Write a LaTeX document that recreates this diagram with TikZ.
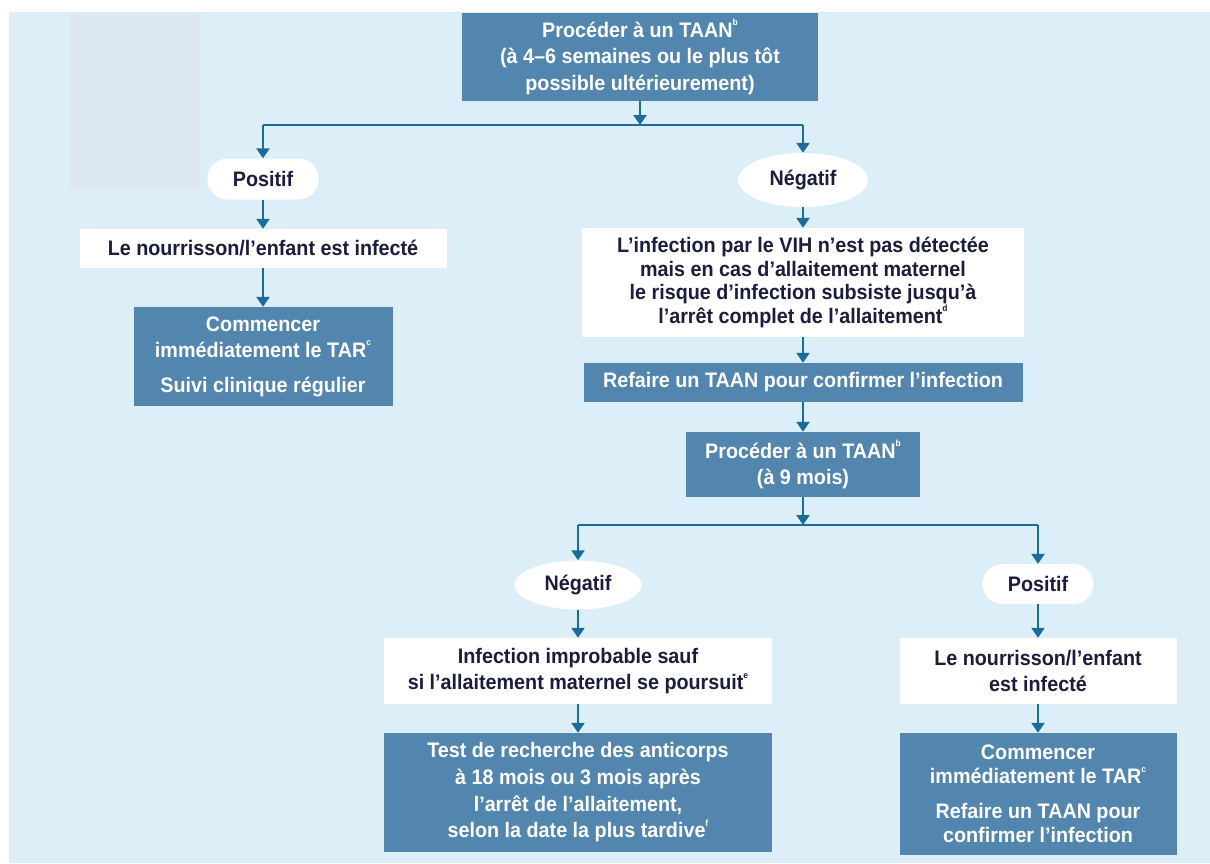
\documentclass[tikz,border=0pt]{standalone}
\usepackage{fontspec}
\setmainfont[FakeStretch=0.94]{Liberation Sans}
\usetikzlibrary{arrows.meta,shapes.geometric}
\definecolor{bg}{HTML}{DCEEF8}
\definecolor{dark}{HTML}{5386AE}
\definecolor{arr}{HTML}{1B6B9C}
\definecolor{greyrect}{HTML}{DDE8F3}
\definecolor{ink}{HTML}{1C1C3C}
\newcommand{\fnmark}[1]{\raisebox{1.05ex}{\fontsize{9}{9}\selectfont #1}}
\begin{document}
\begin{tikzpicture}[x=1pt,y=-1pt,
 txt/.style={font=\bfseries\fontsize{21}{26.5}\selectfont, align=center, inner sep=0pt},
 dbox/.style={txt, fill=dark, text=white},
 wbox/.style={txt, fill=white, text=ink},
 pill/.style={wbox, rounded corners=20pt},
 oval/.style={wbox, ellipse},
 arrow/.style={draw=arr, line width=2.6pt, -{Triangle[length=10pt,width=13pt]}},
 bar/.style={draw=arr, line width=2.6pt}
]
\useasboundingbox (0,0) rectangle (1210,863);
\fill[white] (0,0) rectangle (1210,863);
\fill[bg] (9,12) rectangle (1210,863);
\fill[greyrect] (70,12) rectangle (200,190);

% top
\node[dbox, minimum width=356pt, minimum height=88pt] (t1) at (640,57)
 {Procéder à un TAAN\fnmark{b}\\(à 4–6 semaines ou le plus tôt\\possible ultérieurement)};
\coordinate (j1) at (640,125);
\coordinate (jl1) at (263,125);
\coordinate (jr1) at (803,125);

\node[pill, minimum width=111pt, minimum height=41pt] (p1) at (263,179) {Positif};
\node[oval, minimum width=130pt, minimum height=54pt] (n1) at (803,180) {Négatif};

% left branch
\node[wbox, minimum width=367pt, minimum height=39pt] (w1) at (263,248.5)
 {Le nourrisson/l’enfant est infecté};
\node[dbox, minimum width=259pt, minimum height=99pt] (d1) at (263,356.5)
 {Commencer\\immédiatement le TAR\fnmark{c}\\[8pt]Suivi clinique régulier};

% right branch
\node[wbox, minimum width=442pt, minimum height=109pt, font=\bfseries\fontsize{21}{23.7}\selectfont] (w2) at (803,282.5)
 {L’infection par le VIH n’est pas détectée\\mais en cas d’allaitement maternel\\le risque d’infection subsiste jusqu’à\\l’arrêt complet de l’allaitement\fnmark{d}};
\node[dbox, minimum width=439pt, minimum height=39pt] (d2) at (803,382.5)
 {Refaire un TAAN pour confirmer l’infection};
\node[dbox, minimum width=234pt, minimum height=65pt] (d3) at (803,464.5)
 {Procéder à un TAAN\fnmark{b}\\(à 9 mois)};
\coordinate (j2) at (803,525);
\coordinate (jl2) at (578,525);
\coordinate (jr2) at (1038,525);

\node[oval, minimum width=127pt, minimum height=49pt] (n2) at (578,585) {Négatif};
\node[pill, minimum width=111pt, minimum height=40pt] (p2) at (1038,584) {Positif};

\node[wbox, minimum width=388pt, minimum height=66pt] (w3) at (578,671)
 {Infection improbable sauf\\si l’allaitement maternel se poursuit\fnmark{e}};
\node[dbox, minimum width=388pt, minimum height=119pt, font=\bfseries\fontsize{21}{26.7}\selectfont] (d4) at (578,792.5)
 {Test de recherche des anticorps\\à 18 mois ou 3 mois après\\l’arrêt de l’allaitement,\\selon la date la plus tardive\fnmark{f}};
\node[wbox, minimum width=277pt, minimum height=66pt] (w4) at (1038,671)
 {Le nourrisson/l’enfant\\est infecté};
\node[dbox, minimum width=277pt, minimum height=122pt, font=\bfseries\fontsize{21}{24.5}\selectfont] (d5) at (1038,794)
 {Commencer\\immédiatement le TAR\fnmark{c}\\[10pt]Refaire un TAAN pour\\confirmer l’infection};

% connectors
\draw[arrow] (t1.south) -- (j1);
\draw[bar] (jl1) -- (jr1);
\draw[arrow] (jl1) -- (p1.north);
\draw[arrow] (jr1) -- (n1.north);
\draw[arrow] (p1.south) -- (w1.north);
\draw[arrow] (w1.south) -- (d1.north);
\draw[arrow] (n1.south) -- (w2.north);
\draw[arrow] (w2.south) -- (d2.north);
\draw[arrow] (d2.south) -- (d3.north);
\draw[arrow] (d3.south) -- (j2);
\draw[bar] (jl2) -- (jr2);
\draw[arrow] (jl2) -- (n2.north);
\draw[arrow] (jr2) -- (p2.north);
\draw[arrow] (n2.south) -- (w3.north);
\draw[arrow] (w3.south) -- (d4.north);
\draw[arrow] (p2.south) -- (w4.north);
\draw[arrow] (w4.south) -- (d5.north);
\end{tikzpicture}
\end{document}
